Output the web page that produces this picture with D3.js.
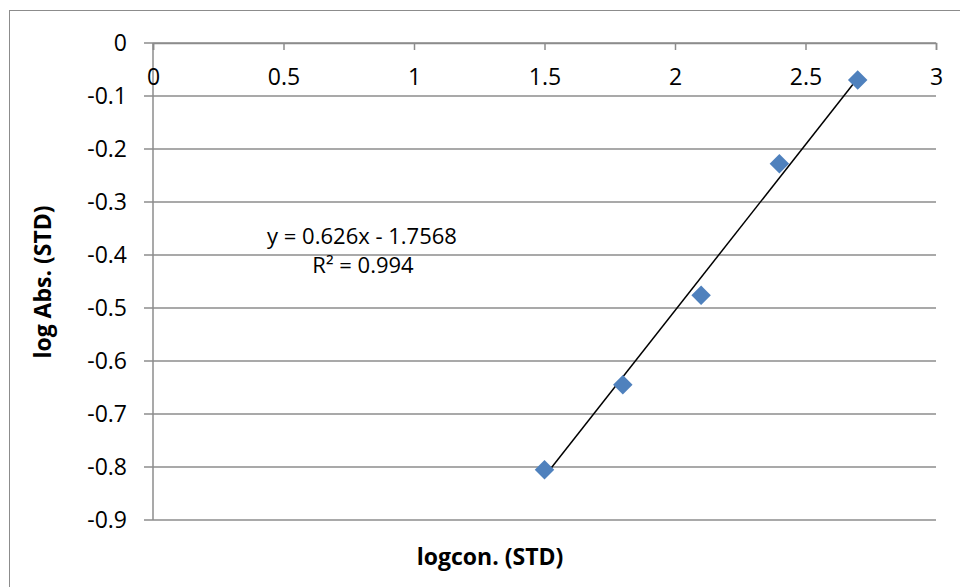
<!DOCTYPE html>
<html>
<head>
<meta charset="utf-8">
<script src="https://cdn.jsdelivr.net/npm/d3@7"></script>
<style>
  body { margin: 0; background: #fff; }
  text { font-family: "Open Sans", "Noto Sans", sans-serif; }
</style>
</head>
<body>
<svg width="960" height="587"></svg>
<script>
// data
var logCon = [1.5, 1.8, 2.1, 2.4, 2.7];
var logAbs = [-0.805, -0.645, -0.476, -0.228, -0.070];
var xTicks = [0, 0.5, 1, 1.5, 2, 2.5, 3];
var yTicks = [0, -0.1, -0.2, -0.3, -0.4, -0.5, -0.6, -0.7, -0.8, -0.9];
var slope = 0.626, intercept = -1.7568, r2 = 0.994;

var svg = d3.select("svg"),
    plotL = 153, plotR = 936, plotT = 43, plotB = 520,
    fs = 23;

// plain hyphen, like Excel (d3.format would give a unicode minus)
var fmt = function (d) { return String(d); };

// outer frame (only left/top edges show in the ref)
svg.append("rect")
    .attr("x", 9.5).attr("y", 10.5)
    .attr("width", 960).attr("height", 600)
    .attr("fill", "none").attr("stroke", "#8c8c8c").attr("stroke-width", 1);

var x = d3.scaleLinear().domain([0, 3]).range([plotL, plotR]);
var y = d3.scaleLinear().domain([-0.9, 0]).range([plotB, plotT]);

// horizontal gridlines
svg.append("g").selectAll("line")
    .data(yTicks)
    .enter().append("line")
    .attr("x1", plotL - 9).attr("x2", plotR)
    .attr("y1", function (d) { return y(d); })
    .attr("y2", function (d) { return y(d); })
    .attr("stroke", "#8c8c8c").attr("stroke-width", 1.5);

// y tick labels
svg.append("g").selectAll("text")
    .data(yTicks)
    .enter().append("text")
    .attr("x", 127).attr("y", function (d) { return y(d); })
    .attr("dy", "0.36em")
    .attr("text-anchor", "end")
    .attr("font-size", fs)
    .text(fmt);

// vertical axis line
svg.append("line")
    .attr("x1", x(0)).attr("x2", x(0))
    .attr("y1", y(0)).attr("y2", y(-0.9))
    .attr("stroke", "#8c8c8c").attr("stroke-width", 1.5);

// x axis sits on y = 0 (top of plot)
var xAxis = d3.axisBottom(x).tickValues(xTicks).tickSize(7).tickFormat(fmt);
var gx = svg.append("g").attr("transform", "translate(0," + y(0) + ")").call(xAxis);
gx.select(".domain").attr("stroke", "#8c8c8c").attr("stroke-width", 1.5);
gx.selectAll(".tick line").attr("stroke", "#8c8c8c").attr("stroke-width", 1.5);
gx.selectAll(".tick text")
    .attr("y", 42).attr("dy", null)
    .attr("font-size", fs).attr("fill", "#000")
    .style("font-family", "'Open Sans', 'Noto Sans', sans-serif");

// trendline
var x0 = d3.min(logCon), x1 = d3.max(logCon);
svg.append("line")
    .attr("x1", x(x0)).attr("y1", y(slope * x0 + intercept))
    .attr("x2", x(x1)).attr("y2", y(slope * x1 + intercept))
    .attr("stroke", "#000").attr("stroke-width", 1.5);

// points (diamonds)
var diamond = d3.symbol().type(d3.symbolSquare).size(190);
svg.append("g").selectAll("path")
    .data(logCon)
    .enter().append("path")
    .attr("d", diamond)
    .attr("transform", function (d, i) {
        return "translate(" + x(d) + "," + y(logAbs[i]) + ") rotate(45)";
    })
    .attr("fill", "#4f81bd");

// equation label
svg.append("text")
    .attr("x", 362).attr("y", 244)
    .attr("text-anchor", "middle").attr("font-size", 22)
    .text("y = " + slope + "x - " + Math.abs(intercept));
svg.append("text")
    .attr("x", 363).attr("y", 273)
    .attr("text-anchor", "middle").attr("font-size", 22)
    .text("R² = " + r2);

// axis titles
svg.append("text")
    .attr("x", 490).attr("y", 565)
    .attr("text-anchor", "middle")
    .attr("font-size", fs).attr("font-weight", "bold")
    .text("logcon. (STD)");
svg.append("text")
    .attr("transform", "translate(51,282) rotate(-90)")
    .attr("text-anchor", "middle")
    .attr("font-size", fs).attr("font-weight", "bold")
    .text("log Abs. (STD)");
</script>
</body>
</html>
